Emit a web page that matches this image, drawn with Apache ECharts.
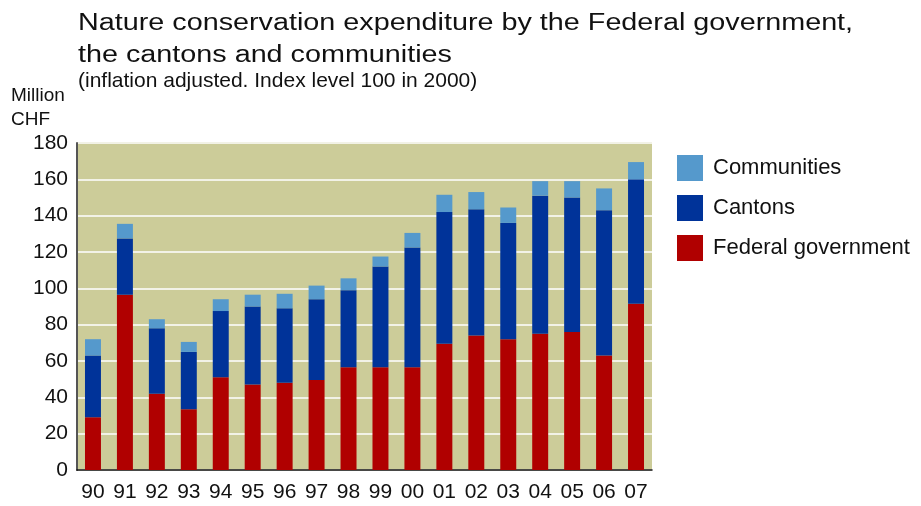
<!DOCTYPE html>
<html>
<head>
<meta charset="utf-8">
<script src="https://cdn.jsdelivr.net/npm/echarts@6/dist/echarts.min.js"></script>
<style>
  html, body { margin: 0; padding: 0; background: #fff; }
  #chart { width: 921px; height: 506px; }
</style>
</head>
<body>
<div id="chart"></div>
<script>
// years on the x axis
const years = ['90', '91', '92', '93', '94', '95', '96', '97', '98', '99', '00', '01', '02', '03', '04', '05', '06', '07']
// million CHF
const federal = [29, 96.5, 42, 33.5, 51, 47, 48, 49.5, 56.5, 56.5, 56.5, 69.5, 74, 72, 75, 76, 63, 91.5]
const cantons = [34, 31, 36, 31.5, 36.5, 43, 41, 44.5, 42.5, 55.5, 66, 72.5, 69.5, 64, 76, 74, 80, 68.5]
const communities = [9, 8, 5, 5.5, 6.5, 6.5, 8, 7.5, 6.5, 5.5, 8, 9.5, 9.5, 8.5, 8, 9, 12, 9.5]

const font = 'Liberation Sans, Arial, sans-serif'

let myChart = echarts.init(document.getElementById('chart'))

let option = {
    animation: false,
    // the title in the picture is set wider than normal, so it is stretched a bit
    graphic: [
        {
            type: 'text',
            x: 78,
            y: 8,
            scaleX: 1.25,
            style: {
                text: 'Nature conservation expenditure by the Federal government,\nthe cantons and communities',
                font: '23px ' + font,
                lineHeight: 32,
                fill: '#111'
            }
        },
        {
            type: 'text',
            x: 78,
            y: 71,
            style: {
                text: '(inflation adjusted. Index level 100 in 2000)',
                font: '21px ' + font,
                fill: '#111'
            }
        },
        {
            type: 'text',
            x: 11,
            y: 84,
            style: {
                text: 'Million\nCHF',
                font: '19px ' + font,
                lineHeight: 24,
                fill: '#111'
            }
        }
    ],
    legend: {
        orient: 'vertical',
        left: 672,
        top: 150,
        itemWidth: 26,
        itemHeight: 26,
        itemGap: 14,
        icon: 'rect',
        data: ['Communities', 'Cantons', 'Federal government'],
        textStyle: { fontFamily: font, fontSize: 22, color: '#111', padding: [0, 0, 0, 5] }
    },
    grid: {
        left: 77,
        right: 269,
        top: 143,
        bottom: 36,
        show: true,
        backgroundColor: '#cccc99',
        borderWidth: 0
    },
    xAxis: {
        type: 'category',
        data: years,
        axisLine: { lineStyle: { color: '#111', width: 1.5 } },
        axisTick: { show: false },
        axisLabel: { fontFamily: font, fontSize: 21, color: '#111', margin: 12 }
    },
    yAxis: {
        type: 'value',
        min: 0,
        max: 180,
        interval: 20,
        axisLine: { show: true, lineStyle: { color: '#555', width: 2 } },
        axisTick: { show: false },
        axisLabel: { fontFamily: font, fontSize: 21, color: '#111', margin: 9 },
        splitLine: { lineStyle: { color: '#f2f2e6', width: 2 } }
    },
    series: [
        {
            name: 'Federal government',
            type: 'bar',
            stack: 'total',
            barWidth: '50%',
            data: federal,
            itemStyle: { color: '#b00000' }
        },
        {
            name: 'Cantons',
            type: 'bar',
            stack: 'total',
            data: cantons,
            itemStyle: { color: '#003399' }
        },
        {
            name: 'Communities',
            type: 'bar',
            stack: 'total',
            data: communities,
            itemStyle: { color: '#5599cc' }
        }
    ]
}

myChart.setOption(option)
</script>
</body>
</html>
